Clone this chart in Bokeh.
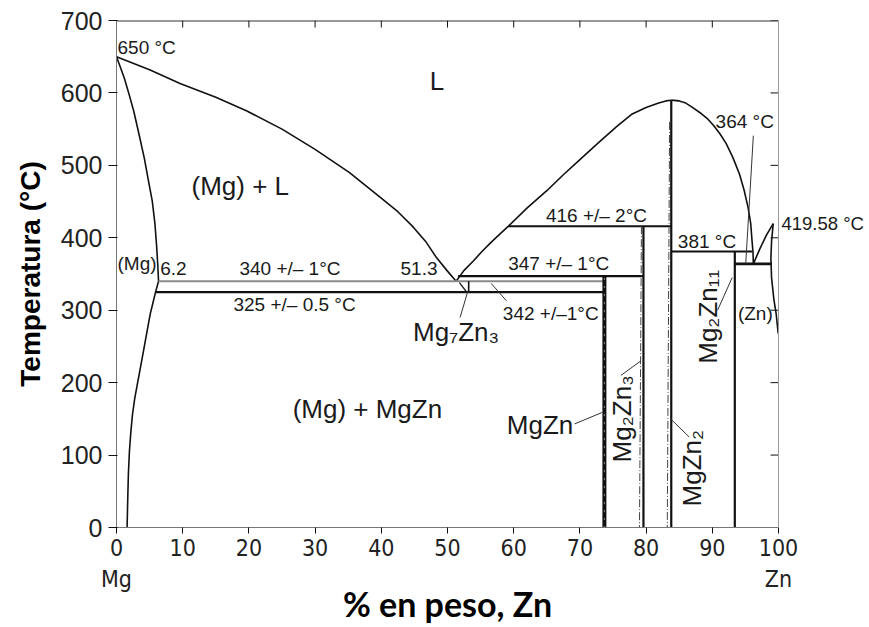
from math import pi
from bokeh.plotting import figure
from bokeh.models import Label, LinearAxis, FixedTicker, Range1d
from bokeh.embed import file_html
from bokeh.resources import INLINE

# ---------------- data ----------------
x_ticks = [0, 10, 20, 30, 40, 50, 60, 70, 80, 90, 100]
y_ticks = [0, 100, 200, 300, 400, 500, 600, 700]
x_tick_text = {0: "0\nMg", 100: "100\nZn"}

# liquidus, Mg side  (650 °C -> eutectic 51.3 %, 340 °C)
liq_mg_x = [0, 5, 9.6, 15, 19.7, 25, 30, 35.2, 39.8, 42.5, 44.8, 46.7, 48.3, 49.9, 51.3]
liq_mg_t = [650, 632, 613, 594, 575, 550, 522, 490, 456, 436, 415, 395, 373, 355, 340]

# (Mg) solidus + solvus
sol_mg_x = [0, 0.6, 1.2, 1.9, 2.6, 3.4, 4.2, 4.8, 5.4, 5.8, 6.05, 6.25, 6.35,
            5.9, 5.5, 5.1, 4.6, 4.1, 3.6, 3.15, 2.75, 2.4, 2.15, 1.95, 1.8, 1.7, 1.6]
sol_mg_t = [650, 635, 620, 598, 575, 543, 510, 480, 451, 420, 390, 360, 340,
            325, 310, 295, 270, 245, 220, 198, 178, 155, 130, 105, 75, 40, 0]

# liquidus from eutectic up to MgZn2 maximum
liq_mid_x = [51.3, 52.5, 53.9, 55.2, 56.5, 57.9, 59.2, 62.0, 65.0, 67.5, 70.0,
             72.9, 75.5, 77.9, 80.0, 81.9, 83.0, 83.8]
liq_mid_t = [340, 355, 368, 381, 393, 405, 416, 441, 465, 487, 508,
             532, 553, 571, 580, 586, 589, 590]

# liquidus from MgZn2 maximum down to 364 °C eutectic
liq_r_x = [83.8, 85.0, 86.0, 87.0, 88.1, 89.2, 90.2, 91.2, 92.1, 93.1, 94.1,
           94.8, 95.4, 95.8, 96.0, 96.15, 96.2]
liq_r_t = [590, 589, 586, 580, 573, 565, 555, 543, 530, 511, 488,
           466, 442, 420, 396, 380, 364]

# Zn side liquidus and (Zn) solidus / solvus
liq_zn_x = [96.2, 97.2, 98.2, 99.2]
liq_zn_t = [364, 385, 404, 419.58]
sol_zn_x = [99.2, 98.95, 98.85, 98.95, 99.3, 99.65, 99.95]
sol_zn_t = [419.58, 395, 372, 345, 315, 295, 268]

# invariant (horizontal) lines: temperature, x start, x end
h340 = (340, 6.35, 73.5)
h325 = (325, 5.9, 73.5)
h347 = (347, 51.6, 79.6)
h416 = (416, 59.2, 83.8)
h381 = (381, 83.8, 96.05)
h364 = (364, 93.4, 99.0)

# intermetallic compounds: composition, top temperature
c_mgzn = (73.7, 347)
c_mg2zn3 = (79.6, 416)
c_mgzn2 = (83.8, 590)
c_mg2zn11 = (93.4, 381)

# Mg7Zn3 small region
mg7zn3_x = [51.8, 52.9]
mg7zn3_t = [338, 325]
mg7zn3_v = (53.2, 325, 340)

# homogeneity-range (dash-dot) boundaries
dd_mg2zn3_x = [79.3, 79.0]
dd_mg2zn3_t = [416, 0]
dd_mgzn2_x = [83.55, 83.2]
dd_mgzn2_t = [560, 0]

# leader lines (x0, t0, x1, t1)
leaders = [
    (53.1, 327, 51.9, 290),    # Mg7Zn3
    (56.6, 337, 58.9, 313),    # 342 +/- 1 °C
    (73.4, 159, 69.2, 143),    # MgZn
    (79.2, 230, 76.2, 210),    # Mg2Zn3
    (83.7, 150, 86.5, 125),    # MgZn2
    (93.0, 345, 90.8, 300),    # Mg2Zn11
    (96.2, 541, 95.05, 364),   # 364 °C
]

zn_melt = 419.58

# ---------------- figure ----------------
X0, X1, T0, T1 = 0, 100, 0, 700
p = figure(width=868, height=626, x_range=Range1d(X0, X1), y_range=Range1d(T0, T1),
           output_backend="svg", toolbar_location=None,
           min_border_left=116, min_border_right=90, min_border_top=20, min_border_bottom=99)
p.xgrid.visible = False
p.ygrid.visible = False
p.outline_line_color = None
p.background_fill_color = "white"
p.border_fill_color = "white"

INK = "#111111"

xa = p.xaxis[0]
xa.ticker = FixedTicker(ticks=x_ticks)
xa.major_label_overrides = x_tick_text
xa.axis_line_color = "#777777"
xa.major_tick_line_color = INK
xa.major_tick_out = 6
xa.major_tick_in = 0
xa.minor_tick_line_color = None
xa.major_label_standoff = 1
xa.major_label_text_font = "DejaVu Sans Condensed, Liberation Sans"
xa.major_label_text_font_size = "23px"
xa.major_label_text_color = "#222222"
xa.axis_label = "% en peso, Zn"
xa.axis_label_text_font = "Lato"
xa.axis_label_text_font_style = "bold"
xa.axis_label_text_font_size = "34px"
xa.axis_label_text_color = "#000000"
xa.axis_label_standoff = -12

ya = p.yaxis[0]
ya.ticker = FixedTicker(ticks=y_ticks)
ya.axis_line_color = "#777777"
ya.major_tick_line_color = INK
ya.major_tick_out = 8
ya.major_tick_in = 1
ya.minor_tick_line_color = None
ya.major_label_standoff = 6
ya.major_label_text_font = "Liberation Sans"
ya.major_label_text_font_size = "25px"
ya.major_label_text_color = "#222222"
ya.axis_label = "Temperatura (°C)"
ya.axis_label_text_font = "Liberation Sans"
ya.axis_label_text_font_style = "bold"
ya.axis_label_text_font_size = "28px"
ya.axis_label_text_color = "#000000"
ya.axis_label_standoff = 12

# right axis: only the Zn melting point label, drawn outside the frame
right = LinearAxis(ticker=FixedTicker(ticks=[zn_melt]),
                   major_label_overrides={zn_melt: "419.58 °C"},
                   major_tick_line_color=None, minor_tick_line_color=None,
                   major_tick_out=0, major_tick_in=0,
                   axis_line_color="#999999", major_label_standoff=3,
                   major_label_text_font="Liberation Sans",
                   major_label_text_font_size="18.5px",
                   major_label_text_color="#1a1a1a")
p.add_layout(right, "right")

# top frame line with inward ticks, right-side inward ticks
p.line([X0, X1], [T1, T1], line_color="#333333", line_width=2)
p.segment(x0=x_ticks, y0=[T1] * len(x_ticks), x1=x_ticks, y1=[T1 - 9.7] * len(x_ticks),
          line_color=INK, line_width=1)
p.segment(x0=[X1] * len(y_ticks), y0=y_ticks, x1=[X1 - 1.2] * len(y_ticks), y1=y_ticks,
          line_color=INK, line_width=1)

# ---------------- curves ----------------
for xs, ts in [(liq_mg_x, liq_mg_t), (sol_mg_x, sol_mg_t), (liq_mid_x, liq_mid_t),
               (liq_r_x, liq_r_t), (liq_zn_x, liq_zn_t), (sol_zn_x, sol_zn_t)]:
    p.line(xs, ts, line_color=INK, line_width=1.6)

# invariant lines
p.line([h340[1], h340[2]], [h340[0], h340[0]], line_color="#8a8a8a", line_width=2)
for h, w in [(h325, 2.2), (h347, 2.2), (h416, 2.0), (h381, 2.0), (h364, 2.6)]:
    p.line([h[1], h[2]], [h[0], h[0]], line_color=INK, line_width=w)

# compounds
p.line([c_mgzn[0], c_mgzn[0]], [0, c_mgzn[1]], line_color=INK, line_width=4)
p.line([c_mgzn[0], c_mgzn[0]], [0, c_mgzn[1]], line_color="white", line_width=1, line_dash="1 7")
for c, w in [(c_mg2zn3, 2.2), (c_mgzn2, 2.2), (c_mg2zn11, 2.2)]:
    p.line([c[0], c[0]], [0, c[1]], line_color=INK, line_width=w)

# Mg7Zn3
p.line(mg7zn3_x, mg7zn3_t, line_color=INK, line_width=1.3)
p.line([mg7zn3_v[0], mg7zn3_v[0]], [mg7zn3_v[1], mg7zn3_v[2]], line_color=INK, line_width=1.6)

# dash-dot homogeneity boundaries
p.line(dd_mg2zn3_x, dd_mg2zn3_t, line_color="#444444", line_width=1, line_dash="8 2 1 2")
p.line(dd_mgzn2_x, dd_mgzn2_t, line_color="#444444", line_width=1, line_dash="8 2 1 2")

# leader lines
for x0, t0, x1, t1 in leaders:
    p.line([x0, x1], [t0, t1], line_color="#333333", line_width=1)

# ---------------- texts ----------------
def lab(x, y, text, size="19px", align="center", angle=0.0, font="Liberation Sans", color="#1a1a1a"):
    p.add_layout(Label(x=x, y=y, text=text, text_font=font, text_font_size=size,
                       text_align=align, text_baseline="middle", angle=angle,
                       text_color=color))

lab(0.15, 663, "650 °C", align="left")
lab(48.4, 617, "L", size="26px")
lab(18.7, 472, "(Mg) + L", size="26px")
lab(0.15, 364, "(Mg)", align="left")
lab(6.6, 357, "6.2", align="left")
lab(26.2, 357, "340 +/– 1°C")
lab(45.7, 358, "51.3")
lab(26.9, 308, "325 +/– 0.5 °C")
lab(66.8, 364, "347 +/– 1°C")
lab(72.5, 431, "416 +/– 2°C")
lab(89.2, 395, "381 °C")
lab(94.9, 560, "364 °C")
lab(65.6, 296, "342 +/–1°C")
lab(96.5, 296, "(Zn)")
lab(44.8, 270, "Mg₇Zn₃", size="26px", align="left")
lab(37.9, 164, "(Mg) + MgZn", size="26px")
lab(69.0, 141, "MgZn", size="26px", align="right")
lab(76.3, 150, "Mg₂Zn₃", size="26px", angle=pi / 2)
lab(87.0, 82, "MgZn₂", size="26px", angle=pi / 2)
lab(89.3, 291, "Mg₂Zn₁₁", size="26px", angle=pi / 2)

open("out.html", "w").write(file_html(p, INLINE))
